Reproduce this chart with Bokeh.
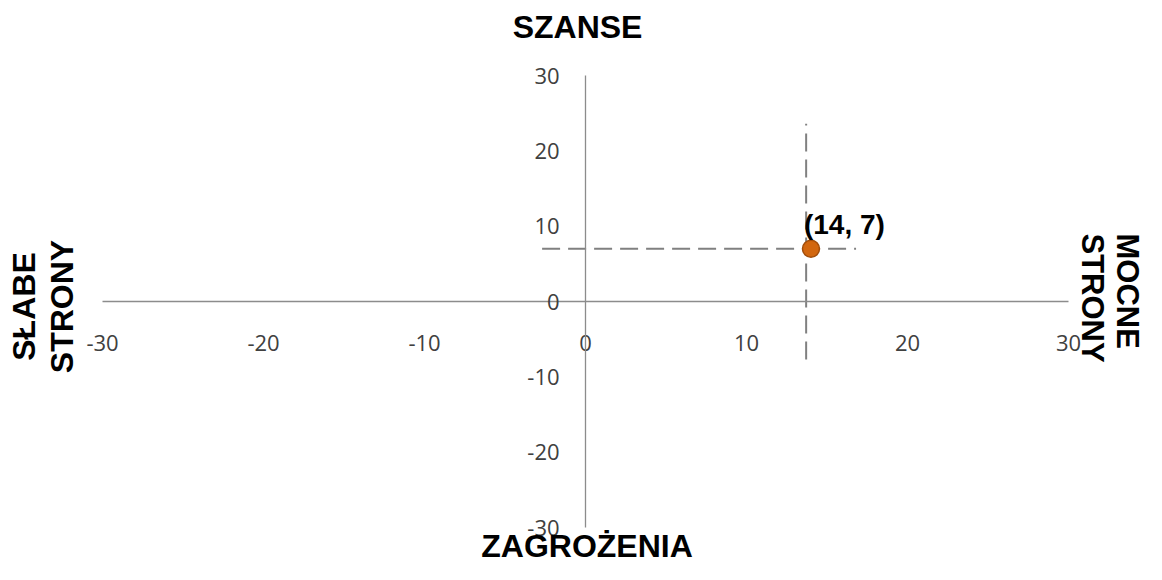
from bokeh.plotting import figure
from bokeh.models import ColumnDataSource, FixedTicker, Label, Range1d, PrintfTickFormatter
from bokeh.core.properties import value
from bokeh.embed import file_html
from bokeh.resources import INLINE

# ---- data ----
point_x = [14]
point_y = [7]
point_labels = ["(14, 7)"]
ticks = [-30, -20, -10, 0, 10, 20, 30]
axis_bounds = (-30, 30)
# dashed guide lines
vline_x = [13.7, 13.7]
vline_y = [-7.7, 23.6]
hline_x = [-2.7, 16.8]
hline_y = [7, 7]

W, H = 1146, 564
p = figure(width=W, height=H, output_backend="svg", toolbar_location=None,
           x_range=Range1d(-36.34, 34.84), y_range=Range1d(-34.91, 39.96),
           min_border=0, outline_line_color=None)
p.grid.visible = False
p.background_fill_color = "white"

for ax in (p.xaxis[0], p.yaxis[0]):
    ax.fixed_location = 0
    ax.bounds = axis_bounds
    ax.ticker = FixedTicker(ticks=ticks)
    ax.formatter = PrintfTickFormatter(format="%d")
    ax.major_tick_in = 0
    ax.major_tick_out = 0
    ax.minor_tick_in = 0
    ax.minor_tick_out = 0
    ax.axis_line_color = "#8c8c8c"
    ax.axis_line_width = 1.3
    ax.major_label_text_font = "Open Sans"
    ax.major_label_text_font_size = "22px"
    ax.major_label_text_color = "#404040"
p.xaxis.major_label_standoff = 33
p.yaxis.major_label_standoff = 26

p.line(vline_x, vline_y, line_color="#808080", line_width=2, line_dash="18 8")
p.line(hline_x, hline_y, line_color="#808080", line_width=2, line_dash="18 8")

src = ColumnDataSource(dict(x=point_x, y=point_y, t=point_labels))
p.scatter("x", "y", source=src, size=17, fill_color="#d2670f", line_color="#a14d0a", line_width=1.5)
p.text("x", "y", text="t", source=src, x_offset=-7, y_offset=-24,
       text_font=value("Liberation Sans"), text_font_style="bold",
       text_font_size="28px", text_color="black", text_baseline="alphabetic", text_align="left")

tfont = dict(text_font="Liberation Sans", text_font_style="bold", text_font_size="32px", text_color="black")
p.add_layout(Label(x=-0.5, y=36.4, text="SZANSE", text_align="center", text_baseline="alphabetic", **tfont))
p.add_layout(Label(x=0.09, y=-34.78, text="ZAGROŻENIA", text_align="center", text_baseline="bottom", **tfont))
p.add_layout(Label(x=-33.70, y=-0.66, text="SŁABE\nSTRONY", angle=1.5708, text_align="center",
                   text_baseline="middle", text_line_height=1.05, **tfont))
side = dict(tfont, text_font_size="31px")
p.add_layout(Label(x=32.6, y=9.03, text="MOCNE\nSTRONY", angle=-1.5708, text_align="left",
                   text_baseline="middle", text_line_height=1.0, **side))

open("out.html", "w").write(file_html(p, INLINE))
